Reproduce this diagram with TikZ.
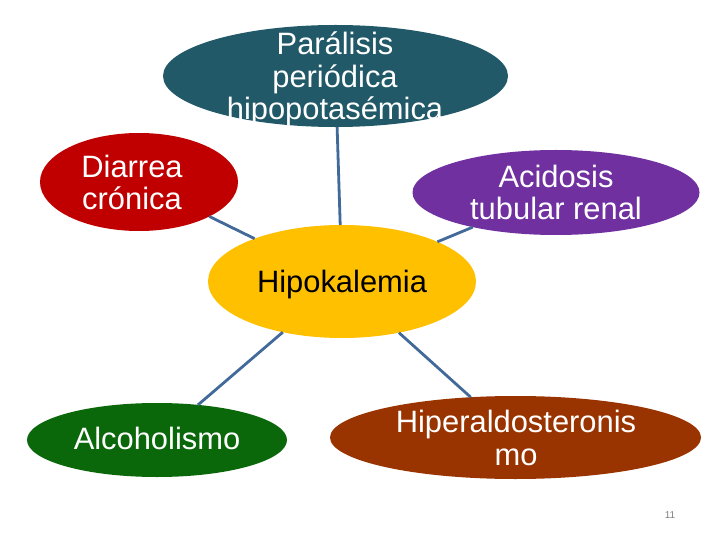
\documentclass[tikz,border=0pt]{standalone}
\usepackage{fontspec}
\setmainfont{Liberation Sans}
\usetikzlibrary{shapes.geometric}
\definecolor{cTeal}{HTML}{215968}
\definecolor{cRed}{HTML}{C00000}
\definecolor{cPurple}{HTML}{7030A0}
\definecolor{cYellow}{HTML}{FFC000}
\definecolor{cGreen}{HTML}{0A670A}
\definecolor{cBrown}{HTML}{993300}
\definecolor{cLine}{HTML}{41699A}
\begin{document}
\begin{tikzpicture}[x=1bp,y=-1bp,
  blob/.style={ellipse, inner sep=0pt, outer sep=0pt, draw=none},
  lbl/.style={anchor=base, align=center, inner sep=0pt, font=\fontsize{31}{33}\selectfont, text=white},
  link/.style={draw=cLine, line width=2.8bp}]
\useasboundingbox (0,0) rectangle (720,540);
\fill[white] (0,0) rectangle (720,540);
% shapes
\node[blob, fill=cTeal, minimum width=345bp, minimum height=102bp] (top) at (335.5,76) {};
\node[blob, fill=cRed, minimum width=198bp, minimum height=98bp] (diar) at (139,182) {};
\node[blob, fill=cPurple, minimum width=287bp, minimum height=85bp] (acid) at (556,192.5) {};
\node[blob, fill=cYellow, minimum width=268bp, minimum height=113bp] (hub) at (342,281.5) {};
\node[blob, fill=cGreen, minimum width=260bp, minimum height=74bp] (alco) at (157,440) {};
\node[blob, fill=cBrown, minimum width=371bp, minimum height=83bp] (hiper) at (515.5,437.5) {};
% connectors
\draw[link] (top) -- (hub);
\draw[link] (diar) -- (hub);
\draw[link] (acid) -- (hub);
\draw[link] (alco) -- (hub);
\draw[link] (hiper) -- (hub);
% texts (base anchor = baseline of last line)
\node[lbl] (ttop) at (335,120) {Parálisis\\periódica\\hipopotasémica};
\node[lbl] (tdiar) at (132,210) {Diarrea\\crónica};
\node[lbl] (tacid) at (556,220) {Acidosis\\tubular renal};
\node[lbl, text=black] (thub) at (342,292) {Hipokalemia};
\node[lbl] (talco) at (157,449) {Alcoholismo};
\node[lbl] (thiper) at (516,465) {Hiperaldosteronis\\mo};
\node[anchor=center, inner sep=0pt, text=gray, font=\fontsize{10}{12}\selectfont] (pnum) at (670,515) {11};
\end{tikzpicture}
\end{document}
